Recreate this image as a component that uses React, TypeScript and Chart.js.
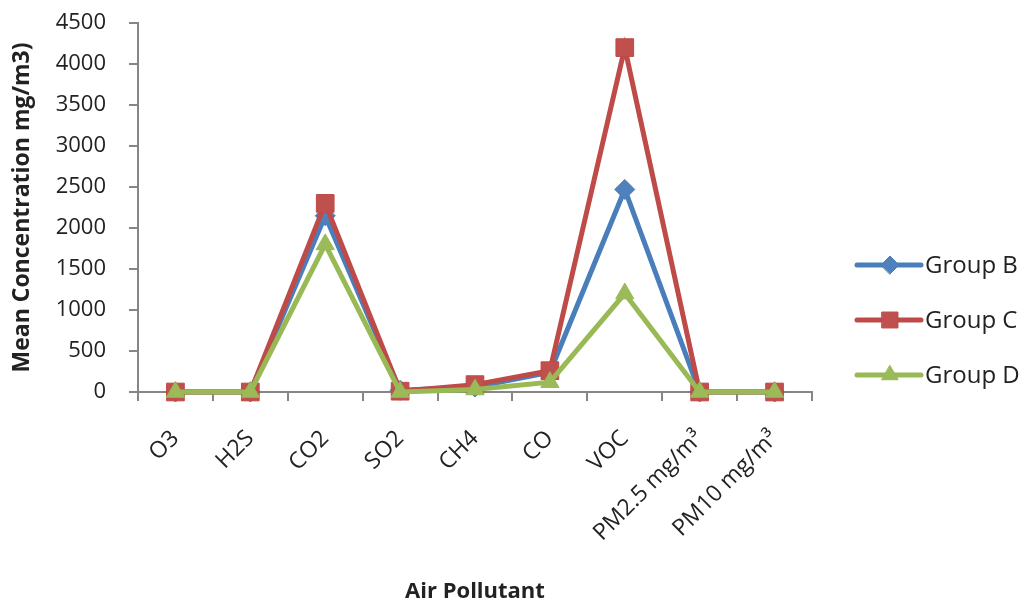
import React, { useEffect, useRef } from "react";
import { Chart, registerables } from "chart.js";
import { drawPoint } from "chart.js/helpers";

Chart.register(...registerables);

const categories = ["O3", "H2S", "CO2", "SO2", "CH4", "CO", "VOC", "PM2.5 mg/m³", "PM10 mg/m³"];
const groupB = [0, 0, 2150, 20, 60, 240, 2470, 0, 0];
const groupC = [0, 0, 2300, 10, 90, 260, 4200, 0, 0];
const groupD = [0, 0, 1800, 0, 30, 120, 1200, 0, 0];
const seriesNames = ["Group B", "Group C", "Group D"];

const COLORS = [
  { line: "#4A7EBB", fill: "#4F81BD", style: "rectRot", radius: 10 },
  { line: "#BE4B48", fill: "#C0504D", style: "rect", radius: 12.5 },
  { line: "#98B954", fill: "#9BBB59", style: "triangle", radius: 10.5 },
];

const legendPlugin = {
  id: "customLegend",
  afterDraw(chart: any) {
    const ctx = chart.ctx;
    const area = chart.chartArea;
    const x0 = area.right + 45;
    const ys = [265, 320, 375];
    ctx.save();
    seriesNames.forEach((name, i) => {
      const c = COLORS[i];
      const y = ys[i];
      ctx.strokeStyle = c.line;
      ctx.lineWidth = 5;
      ctx.lineCap = "round";
      ctx.beginPath();
      ctx.moveTo(x0, y);
      ctx.lineTo(x0 + 64, y);
      ctx.stroke();
      ctx.fillStyle = c.fill;
      ctx.strokeStyle = c.line;
      ctx.lineWidth = 1;
      drawPoint(ctx, { pointStyle: c.style, radius: c.radius * 0.9, borderWidth: 1, rotation: 0 } as any, x0 + 33, y);
      ctx.fillStyle = "#222";
      ctx.font = "24px 'Open Sans'";
      ctx.textAlign = "left";
      ctx.textBaseline = "middle";
      ctx.fillText(name, x0 + 68, y + 1);
    });
    ctx.restore();
  },
};

export default function App() {
  const ref = useRef<HTMLCanvasElement | null>(null);
  useEffect(() => {
    document.body.style.margin = "0";
    const series = [groupB, groupC, groupD];
    const chart = new Chart(ref.current as HTMLCanvasElement, {
      type: "line",
      data: {
        labels: categories,
        datasets: series.map((d, i) => ({
          label: seriesNames[i],
          data: d,
          borderColor: COLORS[i].line,
          backgroundColor: COLORS[i].fill,
          pointBackgroundColor: COLORS[i].fill,
          pointBorderColor: COLORS[i].line,
          pointBorderWidth: 1,
          pointStyle: COLORS[i].style as any,
          pointRadius: COLORS[i].radius,
          borderWidth: 5,
          tension: 0,
          clip: false as any,
          order: 3 - i,
        })),
      },
      options: {
        animation: false,
        responsive: false,
        layout: { padding: { top: 23, right: 215, left: 0, bottom: 0 } },
        plugins: { legend: { display: false }, tooltip: { enabled: false } },
        scales: {
          x: {
            offset: true,
            grid: { drawOnChartArea: false, drawTicks: true, tickLength: 9, offset: true, color: "#868686", lineWidth: 2 },
            border: { color: "#868686", width: 2 },
            ticks: {
              minRotation: 45,
              maxRotation: 45,
              padding: 24,
              color: "#222",
              font: { family: "'Open Sans'", size: 23 },
            },
            title: {
              display: true,
              text: "Air Pollutant",
              color: "#222",
              font: { family: "'Open Sans'", size: 22, weight: "bold" },
              padding: { top: 0, bottom: 0 },
            },
            afterFit(scale: any) {
              scale.height = 213;
              scale.paddingLeft = 0;
              scale.paddingRight = 0;
            },
          },
          y: {
            min: 0,
            max: 4500,
            grid: { drawOnChartArea: false, drawTicks: true, tickLength: 9, color: "#868686", lineWidth: 2 },
            border: { color: "#868686", width: 2 },
            ticks: {
              stepSize: 500,
              padding: 23,
              color: "#222",
              font: { family: "'Open Sans'", size: 22 },
              callback: (v: any) => String(v),
            },
            title: {
              display: true,
              text: "Mean Concentration mg/m3)",
              color: "#222",
              font: { family: "'Open Sans'", size: 23, weight: "bold" },
              padding: { top: 9, bottom: 0 },
            },
            afterFit(scale: any) {
              scale.width = 138;
              scale.paddingTop = 0;
              scale.paddingBottom = 0;
            },
          },
        },
      },
      plugins: [legendPlugin],
    });
    return () => chart.destroy();
  }, []);
  return (
    <div style={{ position: "absolute", left: 0, top: 0, width: 1027, height: 605, background: "#fff" }}>
      <canvas ref={ref} width={1027} height={605} />
    </div>
  );
}
